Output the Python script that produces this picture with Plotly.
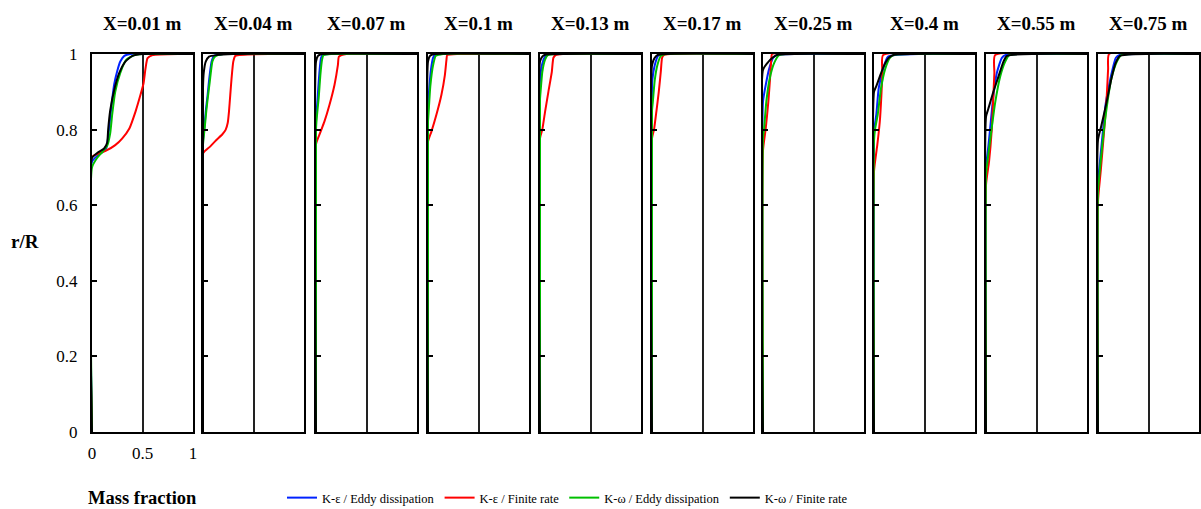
import plotly.graph_objects as go

# ---------------- data ----------------
stations = ["X=0.01 m", "X=0.04 m", "X=0.07 m", "X=0.1 m", "X=0.13 m",
            "X=0.17 m", "X=0.25 m", "X=0.4 m", "X=0.55 m", "X=0.75 m"]

series_names = ["K-ε / Eddy dissipation", "K-ε / Finite rate",
                "K-ω / Eddy dissipation", "K-ω / Finite rate"]
series_colors = ["#0022ff", "#ff0000", "#00c000", "#000000"]

# mass fraction (x) and r/R (y) per station, for each model
ke_ed_mf = [
    [0, 0, 0.05, 0.1, 0.14, 0.16, 0.18, 0.2, 0.22, 0.25, 0.28, 0.32, 0.38, 1],
    [0, 0, 0.012, 0.028, 0.045, 0.06, 0.085, 0.11, 0.2, 1],
    [0, 0, 0.01, 0.025, 0.035, 0.05, 0.07, 1],
    [0, 0, 0.01, 0.03, 0.05, 0.07, 1],
    [0, 0, 0.023, 0.05, 0.08, 1],
    [0, 0, 0.003, 0.027, 0.06, 0.1, 1],
    [0, 0, 0.027, 0.06, 0.1, 0.143, 1],
    [0, 0, 0.007, 0.023, 0.047, 0.09, 0.14, 1],
    [0, 0, 0.007, 0.023, 0.04, 0.073, 0.107, 0.157, 0.2, 1],
    [0, 0, 0.01, 0.043, 0.077, 0.127, 0.177, 0.22, 1],
]
ke_ed_r = [
    [0, 0.715, 0.73, 0.74, 0.75, 0.78, 0.83, 0.88, 0.92, 0.955, 0.98, 0.995, 1.0, 1],
    [0, 0.77, 0.80, 0.85, 0.89, 0.93, 0.98, 0.995, 1.0, 1],
    [0, 0.82, 0.86, 0.92, 0.955, 0.99, 0.998, 1],
    [0, 0.85, 0.90, 0.96, 0.99, 0.998, 1],
    [0, 0.93, 0.975, 0.993, 1.0, 1],
    [0, 0.91, 0.93, 0.97, 0.995, 1.0, 1],
    [0, 0.874, 0.918, 0.96, 0.99, 0.998, 1],
    [0, 0.79, 0.81, 0.84, 0.91, 0.96, 0.993, 1],
    [0, 0.70, 0.72, 0.755, 0.80, 0.89, 0.95, 0.99, 0.998, 1],
    [0, 0.66, 0.69, 0.78, 0.87, 0.94, 0.99, 0.998, 1],
]

ke_fr_mf = [
    [0, 0, 0.07, 0.13, 0.23, 0.3, 0.37, 0.43, 0.48, 0.51, 0.53, 0.55, 0.6, 0.87, 1],
    [0, 0, 0.07, 0.13, 0.19, 0.225, 0.245, 0.257, 0.27, 0.283, 0.3, 0.32, 0.7, 1],
    [0, 0, 0.033, 0.083, 0.133, 0.183, 0.217, 0.227, 0.3, 1],
    [0, 0, 0.033, 0.083, 0.133, 0.167, 0.183, 0.19, 0.3, 1],
    [0, 0, 0.023, 0.05, 0.083, 0.117, 0.133, 0.16, 1],
    [0, 0, 0.02, 0.043, 0.067, 0.087, 0.1, 0.12, 1],
    [0, 0, 0.027, 0.053, 0.07, 0.083, 0.09, 1],
    [0, 0, 0.033, 0.057, 0.073, 0.083, 0.09, 1],
    [0, 0, 0.03, 0.057, 0.073, 0.083, 0.09, 1],
    [0, 0, 0.027, 0.06, 0.087, 0.1, 0.11, 1],
]
ke_fr_r = [
    [0, 0.728, 0.737, 0.743, 0.759, 0.777, 0.803, 0.847, 0.892, 0.922, 0.962, 0.989, 0.997, 1.0, 1],
    [0, 0.737, 0.755, 0.772, 0.787, 0.80, 0.818, 0.847, 0.892, 0.936, 0.98, 0.995, 1.0, 1],
    [0, 0.761, 0.786, 0.821, 0.865, 0.918, 0.971, 0.993, 1.0, 1],
    [0, 0.768, 0.794, 0.839, 0.892, 0.944, 0.985, 0.997, 1.0, 1],
    [0, 0.777, 0.80, 0.847, 0.90, 0.953, 0.99, 0.998, 1],
    [0, 0.777, 0.80, 0.847, 0.90, 0.953, 0.99, 0.998, 1],
    [0, 0.745, 0.803, 0.874, 0.936, 0.99, 1.0, 1],
    [0, 0.689, 0.76, 0.82, 0.89, 0.95, 0.997, 1],
    [0, 0.653, 0.715, 0.80, 0.89, 0.95, 0.997, 1],
    [0, 0.61, 0.69, 0.795, 0.89, 0.96, 1.0, 1],
]

kw_ed_mf = [
    [0, 0, 0.05, 0.1, 0.15, 0.18, 0.2, 0.23, 0.28, 0.34, 0.42, 0.5, 1],
    [0, 0, 0.015, 0.033, 0.05, 0.067, 0.093, 0.117, 0.2, 1],
    [0, 0, 0.007, 0.027, 0.043, 0.06, 0.073, 0.15, 1],
    [0, 0, 0.007, 0.023, 0.05, 0.077, 0.15, 1],
    [0, 0, 0.007, 0.023, 0.05, 0.077, 0.15, 1],
    [0, 0, 0.007, 0.027, 0.053, 0.087, 0.15, 1],
    [0, 0, 0.01, 0.033, 0.067, 0.11, 0.16, 1],
    [0, 0, 0.01, 0.037, 0.07, 0.11, 0.157, 0.2, 1],
    [0, 0, 0.007, 0.04, 0.09, 0.14, 0.19, 0.23, 1],
    [0, 0, 0.01, 0.043, 0.087, 0.133, 0.187, 0.23, 1],
]
kw_ed_r = [
    [0, 0.70, 0.725, 0.74, 0.757, 0.79, 0.84, 0.90, 0.95, 0.985, 0.997, 1.0, 1],
    [0, 0.76, 0.80, 0.85, 0.89, 0.927, 0.98, 0.993, 1.0, 1],
    [0, 0.80, 0.83, 0.885, 0.944, 0.985, 0.997, 1.0, 1],
    [0, 0.82, 0.85, 0.915, 0.97, 0.995, 1.0, 1],
    [0, 0.88, 0.905, 0.953, 0.985, 0.997, 1.0, 1],
    [0, 0.85, 0.87, 0.93, 0.97, 0.995, 1.0, 1],
    [0, 0.78, 0.80, 0.874, 0.936, 0.976, 0.997, 1],
    [0, 0.77, 0.80, 0.84, 0.91, 0.96, 0.99, 0.998, 1],
    [0, 0.68, 0.70, 0.77, 0.87, 0.94, 0.98, 0.997, 1],
    [0, 0.64, 0.67, 0.76, 0.86, 0.935, 0.98, 0.997, 1],
]

kw_fr_mf = [
    [0, 0, 0.06, 0.12, 0.15, 0.16, 0.18, 0.22, 0.27, 0.33, 0.4, 0.5, 1],
    [0, 0, 0.007, 0.027, 0.06, 0.13, 0.3, 1],
    [0, 0, 0.02, 0.06, 1],
    [0, 0, 0.02, 0.06, 1],
    [0, 0, 0.023, 0.05, 1],
    [0, 0, 0.027, 0.06, 1],
    [0, 0, 0.043, 0.093, 0.143, 1],
    [0, 0, 0.023, 0.057, 0.1, 0.147, 0.2, 1],
    [0, 0, 0.023, 0.073, 0.123, 0.173, 0.207, 1],
    [0, 0, 0.033, 0.083, 0.133, 0.173, 0.217, 1],
]
kw_fr_r = [
    [0, 0.725, 0.74, 0.75, 0.765, 0.80, 0.85, 0.905, 0.95, 0.98, 0.995, 1.0, 1],
    [0, 0.91, 0.95, 0.98, 0.993, 0.997, 1.0, 1],
    [0, 0.98, 0.995, 1.0, 1],
    [0, 0.98, 0.995, 1.0, 1],
    [0, 0.98, 0.993, 0.998, 1],
    [0, 0.97, 0.99, 0.998, 1],
    [0, 0.958, 0.976, 0.99, 0.998, 1],
    [0, 0.90, 0.915, 0.94, 0.97, 0.99, 0.998, 1],
    [0, 0.834, 0.855, 0.90, 0.94, 0.98, 0.995, 1],
    [0, 0.773, 0.81, 0.87, 0.935, 0.975, 0.995, 1],
]

x_tick_vals = [0, 0.5, 1]
x_tick_text = ["0", "0.5", "1"]
y_tick_vals = [0, 0.2, 0.4, 0.6, 0.8, 1]
y_tick_text = ["0", "0.2", "0.4", "0.6", "0.8", "1"]

# ---------------- layout geometry (pixels) ----------------
W, H = 1201, 509
panel_left = [92, 203, 316, 428, 540, 652, 763, 874, 986, 1098]
panel_w = 101
top_px, bot_px = 54, 432
FONT = "Liberation Serif, Times New Roman, serif"

all_mf = [ke_ed_mf, ke_fr_mf, kw_ed_mf, kw_fr_mf]
all_r = [ke_ed_r, ke_fr_r, kw_ed_r, kw_fr_r]

fig = go.Figure()
layout = dict(
    width=W, height=H,
    margin=dict(l=0, r=0, t=0, b=0, autoexpand=False),
    paper_bgcolor="white", plot_bgcolor="white",
    font=dict(family=FONT, size=17, color="black"),
    showlegend=True,
    legend=dict(orientation="h", x=282 / W, y=1 - 498 / H, xanchor="left", yanchor="middle",
                font=dict(family=FONT, size=12.5, color="black"), itemwidth=30,
                bgcolor="rgba(0,0,0,0)", tracegroupgap=0),
    annotations=[], shapes=[],
)

for i, st in enumerate(stations):
    sfx = "" if i == 0 else str(i + 1)
    xa, ya = "x" + sfx, "y" + sfx
    x0 = panel_left[i] / W
    x1 = (panel_left[i] + panel_w) / W
    first = i == 0
    layout["xaxis" + sfx] = dict(
        domain=[x0, x1], range=[0, 1], anchor=ya,
        showline=True, mirror=True, linecolor="black", linewidth=2,
        showgrid=True, gridcolor="#222222", gridwidth=1.5,
        tickvals=x_tick_vals, ticktext=x_tick_text if first else None,
        showticklabels=first, ticks="", zeroline=False, fixedrange=True,
        ticklabelstandoff=5,
        tickfont=dict(family=FONT, size=17, color="black"),
    )
    layout["yaxis" + sfx] = dict(
        domain=[1 - bot_px / H, 1 - top_px / H], range=[0, 1], anchor=xa,
        showline=True, mirror=True, linecolor="black", linewidth=2,
        showgrid=False, zeroline=False,
        tickvals=y_tick_vals, ticktext=y_tick_text if first else None,
        showticklabels=first, ticks="inside", ticklen=5, tickwidth=1.5, tickcolor="black",
        ticklabelstandoff=9, fixedrange=True,
        tickfont=dict(family=FONT, size=17, color="black"),
    )
    for k in range(4):
        fig.add_trace(go.Scatter(
            x=all_mf[k][i], y=all_r[k][i], mode="lines",
            line=dict(color=series_colors[k], width=2, shape="spline", smoothing=0.5),
            name=series_names[k], showlegend=first,
            xaxis=xa, yaxis=ya, cliponaxis=True,
        ))
    layout["annotations"].append(dict(
        text="<b>" + st + "</b>", x=(x0 + x1) / 2, y=1 - 24 / H,
        xref="paper", yref="paper", xanchor="center", yanchor="middle",
        showarrow=False, font=dict(family=FONT, size=19, color="black"),
    ))

layout["annotations"].append(dict(
    text="<b>r/R</b>", x=25 / W, y=1 - 242 / H, xref="paper", yref="paper",
    xanchor="center", yanchor="middle", showarrow=False,
    font=dict(family=FONT, size=19, color="black"),
))
layout["annotations"].append(dict(
    text="<b>Mass fraction</b>", x=86 / W, y=1 - 498 / H, xref="paper", yref="paper",
    xanchor="left", yanchor="middle", showarrow=False,
    font=dict(family=FONT, size=18.5, color="black"),
))

fig.update_layout(**layout)
fig.write_html("out.html")
